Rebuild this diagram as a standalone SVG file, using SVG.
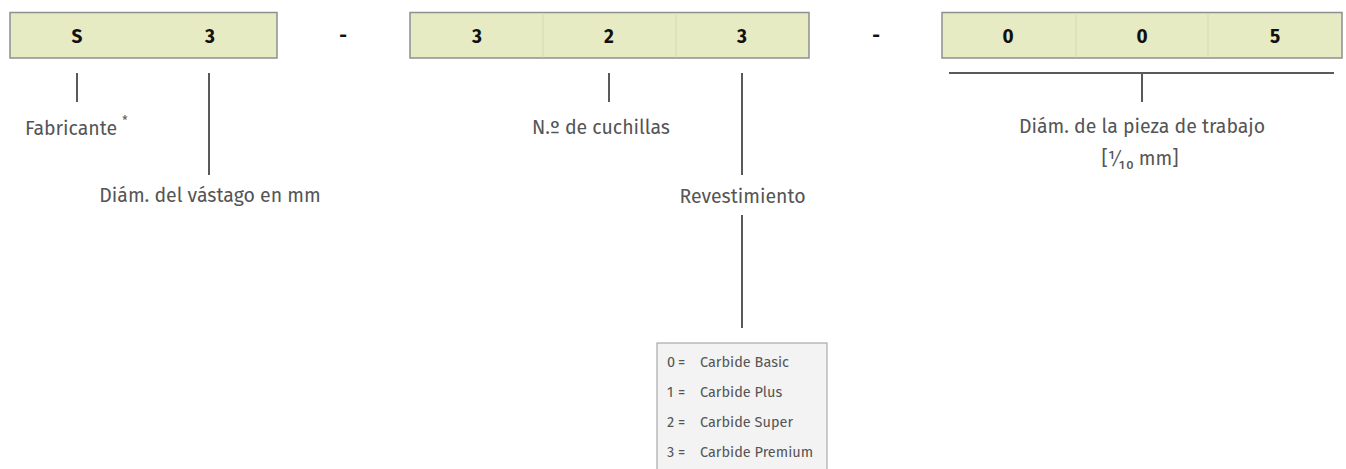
<svg xmlns="http://www.w3.org/2000/svg" width="1346" height="469" viewBox="0 0 1346 469">
<style>
.box{fill:#e6ebc4;stroke:#8f8f8f;stroke-width:1.5}
.div{stroke:#d4dab2;stroke-width:1}
.code{font-family:"Fira Sans","Open Sans","Liberation Sans",sans-serif;font-weight:bold;font-size:19px;fill:#111;text-anchor:middle}
.lbl{font-family:"Fira Sans","Open Sans","Liberation Sans",sans-serif;font-size:19.5px;fill:#555}
.leg{font-family:"Fira Sans","Open Sans","Liberation Sans",sans-serif;font-size:14.5px;fill:#555}
.ln{stroke:#5a5a5a;stroke-width:2;fill:none}
</style>
<g id="code1">
<rect class="box" x="10" y="12.5" width="267" height="45.5"/>
<text class="code" x="77" y="43">S</text>
<text class="code" x="210" y="43">3</text>
</g>
<g id="dash1"><text class="code" x="343" y="42">-</text></g>
<g id="code2">
<rect class="box" x="410" y="12.5" width="399" height="45.5"/>
<line class="div" x1="543" y1="13" x2="543" y2="57.5"/>
<line class="div" x1="676" y1="13" x2="676" y2="57.5"/>
<text class="code" x="477" y="43">3</text>
<text class="code" x="609" y="43">2</text>
<text class="code" x="742" y="43">3</text>
</g>
<g id="dash2"><text class="code" x="876" y="42">-</text></g>
<g id="code3">
<rect class="box" x="942" y="12.5" width="400" height="45.5"/>
<line class="div" x1="1076" y1="13" x2="1076" y2="57.5"/>
<line class="div" x1="1208" y1="13" x2="1208" y2="57.5"/>
<text class="code" x="1008" y="43">0</text>
<text class="code" x="1142" y="43">0</text>
<text class="code" x="1275" y="43">5</text>
</g>
<g id="connectors">
<line class="ln" x1="77" y1="73" x2="77" y2="102"/>
<line class="ln" x1="209" y1="73" x2="209" y2="175"/>
<line class="ln" x1="609" y1="73" x2="609" y2="102"/>
<line class="ln" x1="742" y1="73" x2="742" y2="175"/>
<line class="ln" x1="742" y1="215" x2="742" y2="328"/>
<line class="ln" x1="949" y1="73" x2="1334" y2="73"/>
<line class="ln" x1="1142" y1="73" x2="1142" y2="102"/>
</g>
<g id="fabricante"><text class="lbl" x="25" y="135">Fabricante <tspan font-size="12" dy="-10">*</tspan></text></g>
<g id="vastago"><text class="lbl" x="210" y="202" text-anchor="middle">Diám. del vástago en mm</text></g>
<g id="cuchillas"><text class="lbl" x="532" y="134">N.º de cuchillas</text></g>
<g id="revestimiento"><text class="lbl" x="742.5" y="203" text-anchor="middle">Revestimiento</text></g>
<g id="pieza">
<text class="lbl" x="1142" y="133" text-anchor="middle">Diám. de la pieza de trabajo</text>
<text class="lbl" x="1140" y="165" text-anchor="middle">[¹⁄₁₀ mm]</text>
</g>
<g id="legend">
<rect x="657" y="343" width="170" height="140" fill="#f2f3f2" stroke="#9a9a9a" stroke-width="1"/>
<text class="leg" y="367"><tspan x="667">0</tspan><tspan x="678">=</tspan><tspan x="700">Carbide Basic</tspan></text>
<text class="leg" y="397"><tspan x="667">1</tspan><tspan x="678">=</tspan><tspan x="700">Carbide Plus</tspan></text>
<text class="leg" y="427"><tspan x="667">2</tspan><tspan x="678">=</tspan><tspan x="700">Carbide Super</tspan></text>
<text class="leg" y="457"><tspan x="667">3</tspan><tspan x="678">=</tspan><tspan x="700">Carbide Premium</tspan></text>
</g>
</svg>
